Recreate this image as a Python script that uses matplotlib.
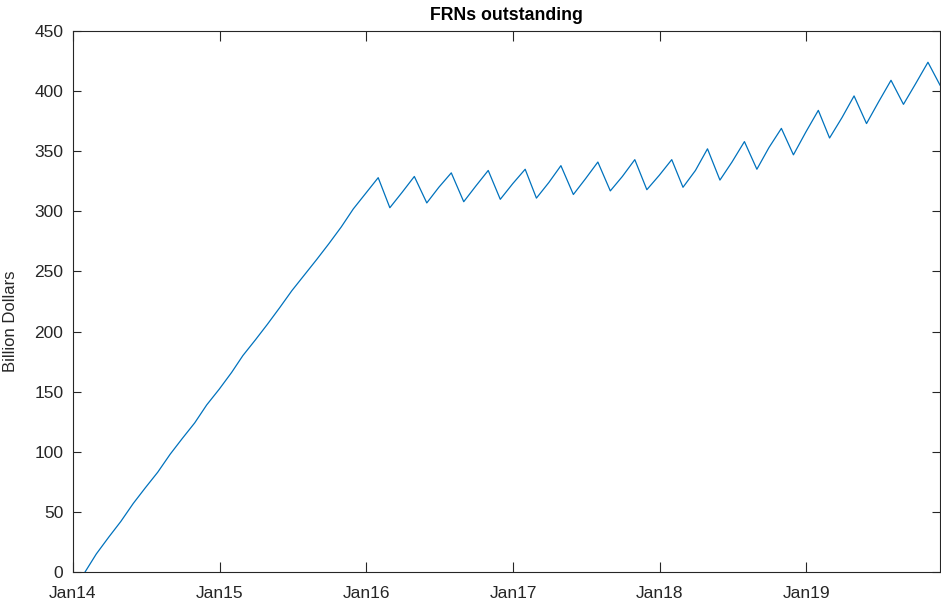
import numpy as np
import pandas as pd
import matplotlib
matplotlib.use("Agg")
import matplotlib.pyplot as plt

plt.rcParams['font.family'] = ['Liberation Sans', 'DejaVu Sans']

# month-end values, Jan 2014 .. Nov 2019 (billion dollars)
vals_2014 = [0, 15, 29, 42, 57, 70, 83, 98, 111, 124, 139, 152]
vals_2015 = [166, 180, 193, 206, 220, 234, 247, 260, 273, 287, 302, 315]
vals_2016 = [328, 303, 316, 329, 307, 320, 332, 308, 321, 334, 310, 323]
vals_2017 = [335, 311, 324, 338, 314, 327, 341, 317, 329, 343, 318, 330]
vals_2018 = [343, 320, 334, 352, 326, 341, 358, 335, 353, 369, 347, 366]
vals_2019 = [384, 361, 378, 396, 373, 391, 409, 389, 406, 424, 405]

outstanding = vals_2014 + vals_2015 + vals_2016 + vals_2017 + vals_2018 + vals_2019
dates = pd.date_range('2014-01-31', periods=len(outstanding), freq='ME')

tick_dates = pd.date_range('2014-01-01', '2019-01-01', freq='YS')
tick_labels = ['Jan14', 'Jan15', 'Jan16', 'Jan17', 'Jan18', 'Jan19']

axcol = '#262626'

fig = plt.figure(figsize=(9.41, 6.04), dpi=100)
ax = fig.add_axes([73 / 941, 32 / 604, 867 / 941, 541 / 604])

ax.plot(dates, outstanding, color='#0072BD', linewidth=0.9)

ax.set_xlim(pd.Timestamp('2014-01-01'), pd.Timestamp('2019-11-30'))
ax.set_ylim(0, 450)
ax.set_yticks(np.arange(0, 451, 50))
ax.set_xticks(tick_dates)
ax.set_xticklabels(tick_labels)

ax.tick_params(direction='in', top=True, right=True, labelsize=12.5,
               colors=axcol, width=0.8)
ax.tick_params(axis='x', length=7, pad=10)
ax.tick_params(axis='y', length=6, pad=7)
for s in ax.spines.values():
    s.set_color(axcol)
    s.set_linewidth(0.8)

ax.set_ylabel('Billion Dollars', fontsize=12, color=axcol)
ax.yaxis.set_label_coords(-0.063, 0.464)
ax.set_title('FRNs outstanding', fontsize=12.75, fontweight='bold', pad=8)

fig.savefig('out.png', dpi=100)
